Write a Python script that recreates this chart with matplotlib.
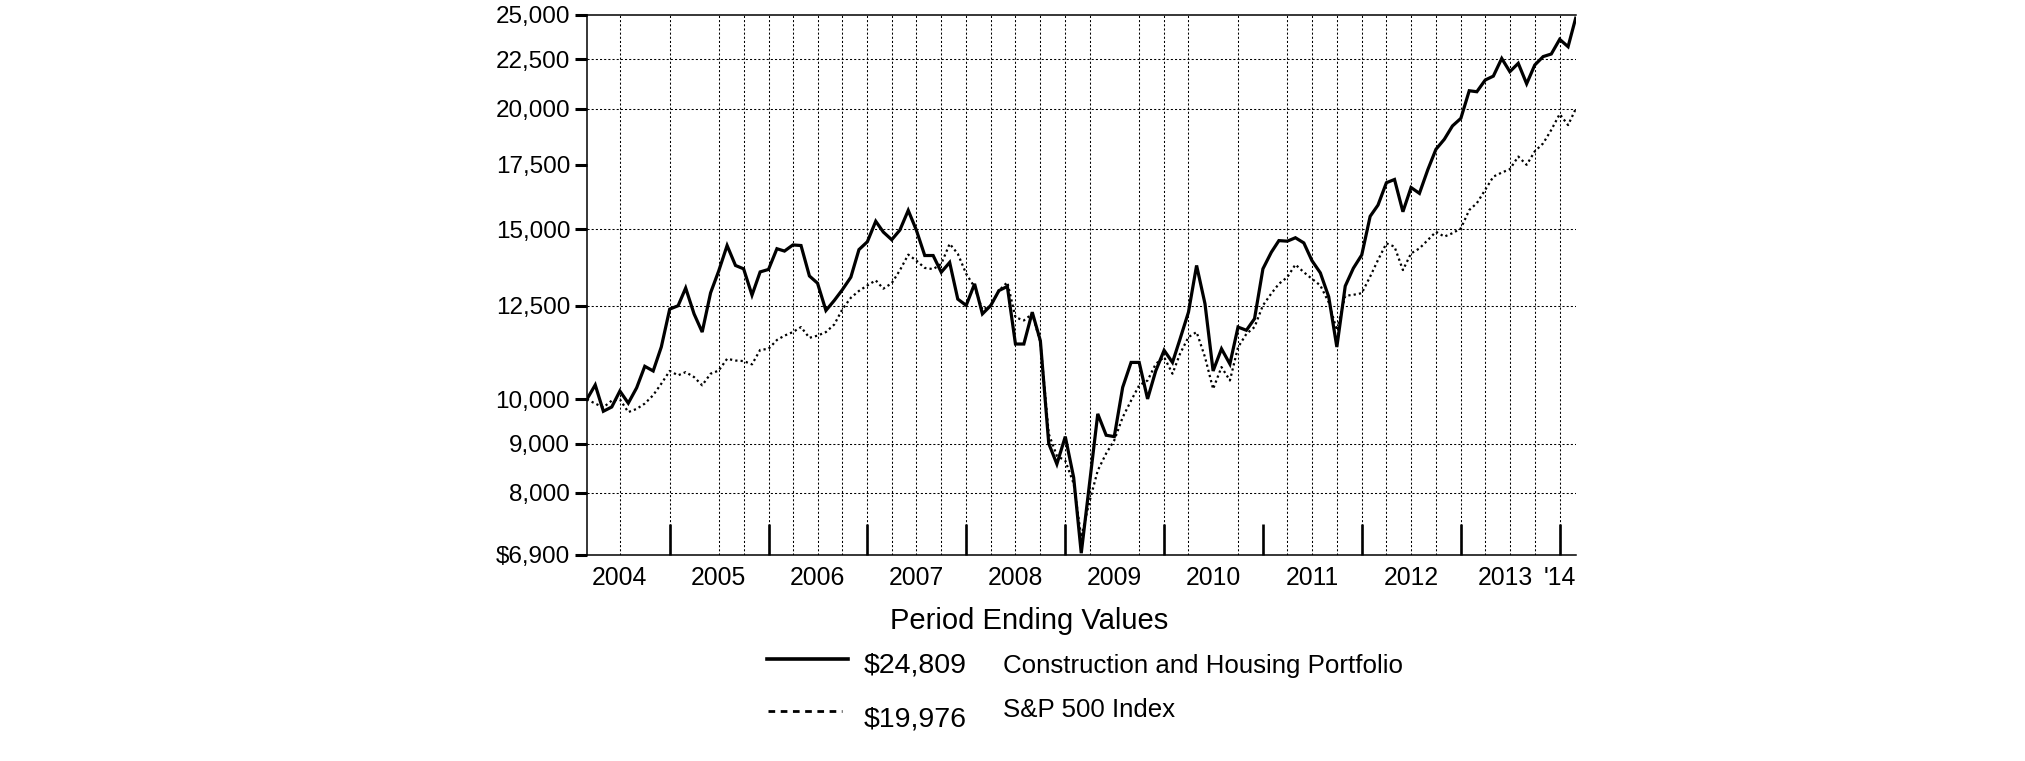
import numpy as np
import pandas as pd
import matplotlib
matplotlib.use('Agg')
import matplotlib.pyplot as plt
from matplotlib.lines import Line2D
from matplotlib.ticker import NullLocator

# month-end values, Feb 2004 .. Feb 2014, $10,000 start
dates = pd.date_range('2004-02-29', periods=121, freq='ME')

portfolio = [
    10000, 10350, 9720, 9820, 10200, 9910, 10280, 10820, 10700, 11330,
    12400, 12500, 13040, 12260, 11740, 12890, 13580, 14430, 13760, 13650,
    12820, 13550, 13630, 14320, 14240, 14450, 14430, 13420, 13190, 12360,
    12660, 12990, 13380, 14290, 14560, 15290, 14900, 14630, 14970, 15690,
    14970, 14090, 14090, 13540, 13860, 12700, 12510, 13170, 12260, 12510,
    12960, 13090, 11410, 11410, 12310, 11500, 9000, 8570, 9150, 8300,
    6930, 8200, 9660, 9180, 9150, 10290, 10920, 10920, 10010, 10700,
    11240, 10920, 11550, 12310, 13760, 12560, 10700, 11280, 10880, 11880,
    11790, 12120, 13650, 14200, 14600, 14580, 14700, 14520, 13920, 13520,
    12770, 11330, 13100, 13670, 14110, 15470, 15890, 16760, 16890, 15640,
    16570, 16340, 17290, 18150, 18590, 19190, 19540, 20870, 20820, 21410,
    21610, 22540, 21840, 22280, 21220, 22190, 22640, 22780, 23590, 23180,
    24809,
]

sp500 = [
    10000, 9900, 9810, 9970, 10000, 9700, 9775, 9900, 10100, 10380,
    10700, 10590, 10670, 10545, 10340, 10630, 10710, 11015, 10970, 10955,
    10870, 11250, 11280, 11520, 11640, 11740, 11880, 11580, 11640, 11740,
    11955, 12400, 12740, 12950, 13120, 13280, 13020, 13190, 13600, 14120,
    13920, 13680, 13640, 13810, 14490, 14150, 13490, 13070, 12380, 12510,
    12960, 13220, 12160, 12070, 12260, 11460, 9210, 8740, 8640, 8180,
    7200, 7850, 8440, 8790, 9070, 9580, 9970, 10340, 10460, 10880,
    11060, 10630, 11150, 11600, 11740, 11060, 10250, 10800, 10460, 11320,
    11690, 11880, 12510, 12870, 13170, 13380, 13790, 13540, 13330, 13120,
    12600, 11790, 12800, 12830, 12880, 13400, 13940, 14505, 14390, 13610,
    14160, 14330, 14620, 14910, 14740, 14860, 15030, 15705, 15960, 16480,
    17005, 17170, 17310, 17840, 17490, 18060, 18410, 19010, 19740, 19230,
    19976,
]

yticks = [6900, 8000, 9000, 10000, 12500, 15000, 17500, 20000, 22500, 25000]
ytick_labels = ['$6,900', '8,000', '9,000', '10,000', '12,500', '15,000',
                '17,500', '20,000', '22,500', '25,000']
year_labels = ['2004', '2005', '2006', '2007', '2008', '2009', '2010',
               '2011', '2012', '2013', "'14"]
end_values = ['$24,809', '$19,976']
names = ['Construction and Housing Portfolio', 'S&P 500 Index']

plt.rcParams['font.family'] = ['Liberation Sans', 'DejaVu Sans']

fig = plt.figure(figsize=(20.25, 7.61), dpi=100)
ax = fig.add_axes([0.2898, 0.2707, 0.4883, 0.7096])

# grid (a few quarter lines and two value lines are absent in the original)
hgrid = [8000, 9000, 12500, 15000, 20000, 22500]
for v in hgrid:
    ax.axhline(v, color='black', lw=0.75, ls=(0, (2, 2)), zorder=1)

quarters = pd.date_range('2004-06-30', '2013-12-31', freq='QE')
skip = pd.to_datetime(['2004-09-30', '2005-03-31', '2009-06-30',
                       '2010-06-30', '2010-12-31'])
for q in quarters:
    if q not in skip:
        ax.axvline(q, color='black', lw=0.75, ls=(0, (2, 2)), zorder=1)

ax.plot(dates, portfolio, color='black', lw=2.3, solid_joinstyle='miter', zorder=3)
ax.plot(dates, sp500, color='black', lw=1.6, ls=(0, (1, 1.4)), zorder=2)

ax.set_yscale('log')
ax.set_ylim(6900, 25000)
ax.set_xlim(dates[0], dates[-1])
ax.set_yticks(yticks, ytick_labels)
ax.yaxis.set_minor_locator(NullLocator())
ax.tick_params(axis='y', direction='out', length=8.5, width=2.2,
               pad=3.5, labelsize=17.5)

year_ends = pd.date_range('2004-12-31', '2013-12-31', freq='YE')
label_pos = list(pd.to_datetime([f'{y}-06-30' for y in range(2004, 2013)]))
label_pos += list(pd.to_datetime(['2013-06-15', '2014-01-01']))
ax.set_xticks(year_ends, [''] * len(year_ends))
ax.set_xticks(label_pos, year_labels, minor=True)
ax.tick_params(axis='x', which='major', direction='in', length=22, width=1.9)
ax.tick_params(axis='x', which='minor', length=0, pad=8, labelsize=17.8)

ax.spines['right'].set_visible(False)
for s in ['top', 'left', 'bottom']:
    ax.spines[s].set_linewidth(1.1)

# legend block below the chart
fig.text(0.5084, 0.1731, 'Period Ending Values', ha='center', va='baseline',
         fontsize=21)
fig.add_artist(Line2D([0.3788, 0.4188], [0.1340, 0.1340], color='black',
                      lw=2.6, transform=fig.transFigure))
fig.add_artist(Line2D([0.3793, 0.4158], [0.0661, 0.0661], color='black',
                      lw=2.0, ls=(0, (2.4, 2.0)), transform=fig.transFigure))
fig.text(0.4267, 0.1163, end_values[0], ha='left', va='baseline', fontsize=20.5)
fig.text(0.4952, 0.1156, names[0], ha='left', va='baseline', fontsize=18.6)
fig.text(0.4267, 0.0447, end_values[1], ha='left', va='baseline', fontsize=20.5)
fig.text(0.4952, 0.0578, names[1], ha='left', va='baseline', fontsize=18.6)

fig.savefig('out.png', dpi=100)
